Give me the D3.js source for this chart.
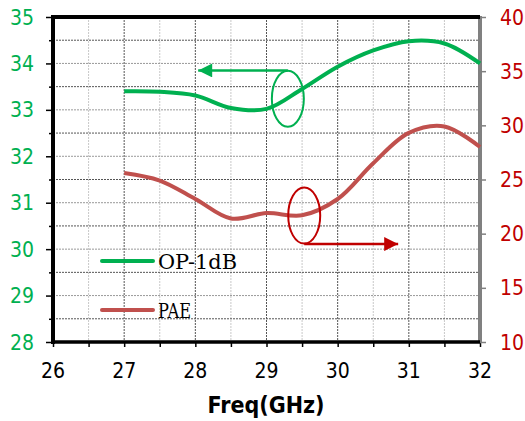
<!DOCTYPE html>
<html>
<head>
<meta charset="utf-8">
<script src="https://cdn.jsdelivr.net/npm/d3@7"></script>
<style>
  body { margin: 0; background: #fff; }
  svg { display: block; }
  .tick-lab { font-family: 'DejaVu Sans Condensed', 'DejaVu Sans', sans-serif; font-stretch: condensed; font-size: 21px; }
</style>
</head>
<body>
<svg id="chart"></svg>
<script>
// frequencies (GHz)
const freq = [27, 27.5, 28, 28.5, 29, 29.5, 30, 30.5, 31, 31.5, 32];
// output P-1dB (dBm), left axis
const op1db = [33.4, 33.39, 33.31, 33.04, 33.02, 33.45, 33.93, 34.28, 34.48, 34.43, 34.0];
// PAE (%), right axis
const pae = [25.6, 24.9, 23.2, 21.4, 21.9, 21.7, 23.2, 26.5, 29.3, 29.9, 28.0];

const xTicks = [26, 27, 28, 29, 30, 31, 32];
const yLeftTicks = [28, 29, 30, 31, 32, 33, 34, 35];
const yRightTicks = [10, 15, 20, 25, 30, 35, 40];
const seriesNames = ["OP-1dB", "PAE"];

const W = 525, H = 421;
const margin = {top: 17, right: 45, bottom: 79, left: 53};
const width = W - margin.left - margin.right;
const height = H - margin.top - margin.bottom;

const green = "#00b050", red = "#c0504d", darkRed = "#c00000";

const svg = d3.select("#chart").attr("width", W).attr("height", H);
const g = svg.append("g").attr("transform", `translate(${margin.left},${margin.top})`);

const x = d3.scaleLinear().domain([26, 32]).range([0, width]);
const yL = d3.scaleLinear().domain([28, 35]).range([height, 0]);
const yR = d3.scaleLinear().domain([10, 40]).range([height, 0]);

// grid: vertical every 0.5 GHz, horizontal every 0.5 on left axis
const vGrid = d3.range(26.5, 32, 0.5);
const hGrid = d3.range(28.5, 35, 0.5);
g.append("g").selectAll("line").data(vGrid).join("line")
  .attr("x1", d => x(d)).attr("x2", d => x(d))
  .attr("y1", 0).attr("y2", height)
  .attr("stroke", d => Number.isInteger(d) ? "#555" : "#c8c8c8")
  .attr("stroke-dasharray", "2,1").attr("stroke-width", 1);
g.append("g").selectAll("line").data(hGrid).join("line")
  .attr("x1", 0).attr("x2", width)
  .attr("y1", d => yL(d)).attr("y2", d => yL(d))
  .attr("stroke", d => Number.isInteger(d) ? "#999" : "#555")
  .attr("stroke-dasharray", "2,1").attr("stroke-width", 1);

// axes
const xAxis = d3.axisBottom(x).tickValues(d3.range(26, 32.01, 0.5)).tickSize(5).tickFormat("");
const yLAxis = d3.axisLeft(yL).tickValues(d3.range(28, 35.01, 0.5)).tickSize(5).tickFormat("");
const yRAxis = d3.axisRight(yR).tickValues(yRightTicks).tickSize(6).tickFormat("");

const xg = g.append("g").attr("transform", `translate(0,${height})`).call(xAxis);
xg.select(".domain").remove();
xg.selectAll(".tick line").attr("stroke", "#000").attr("stroke-width", 1.5);

const ylg = g.append("g").call(yLAxis);
ylg.select(".domain").remove();
ylg.selectAll(".tick line").attr("stroke", "#000").attr("stroke-width", 1.5)
  .attr("x2", d => Number.isInteger(d) ? -7 : -4);

const yrg = g.append("g").attr("transform", `translate(${width},0)`).call(yRAxis);
yrg.select(".domain").remove();
yrg.selectAll(".tick line").attr("stroke", "#808080").attr("stroke-width", 1.5);

// frame lines
g.append("line").attr("x1", width).attr("x2", width).attr("y1", -1).attr("y2", height + 1)
  .attr("stroke", "#808080").attr("stroke-width", 4);
g.append("line").attr("x1", -2).attr("x2", width).attr("y1", 0).attr("y2", 0)
  .attr("stroke", "#000").attr("stroke-width", 4);
g.append("line").attr("x1", 0).attr("x2", width).attr("y1", height).attr("y2", height)
  .attr("stroke", "#000").attr("stroke-width", 3.5);
g.append("line").attr("x1", 0).attr("x2", 0).attr("y1", -2).attr("y2", height + 2)
  .attr("stroke", "#000").attr("stroke-width", 4);

// tick labels
g.append("g").selectAll("text").data(xTicks).join("text")
  .attr("class", "tick-lab")
  .attr("x", d => x(d)).attr("y", height + 36)
  .attr("text-anchor", "middle").attr("fill", "#000")
  .text(d => d);
g.append("g").selectAll("text").data(yLeftTicks).join("text")
  .attr("class", "tick-lab")
  .attr("x", -19).attr("y", d => yL(d)).attr("dy", "0.36em")
  .attr("text-anchor", "end").attr("fill", green)
  .text(d => d);
g.append("g").selectAll("text").data(yRightTicks).join("text")
  .attr("class", "tick-lab")
  .attr("x", width + 20).attr("y", d => yR(d)).attr("dy", "0.36em")
  .attr("text-anchor", "start").attr("fill", darkRed)
  .text(d => d);

// axis title
svg.append("text")
  .attr("x", 266).attr("y", 413)
  .attr("text-anchor", "middle")
  .attr("font-family", "'DejaVu Sans Condensed', 'DejaVu Sans', sans-serif")
  .attr("font-stretch", "condensed")
  .attr("font-weight", "bold").attr("font-size", "23px")
  .text("Freq(GHz)");

// series
const opLine = d3.line().x((d, i) => x(freq[i])).y(d => yL(d)).curve(d3.curveCatmullRom);
const paeLine = d3.line().x((d, i) => x(freq[i])).y(d => yR(d)).curve(d3.curveCatmullRom);

g.append("path").datum(pae).attr("d", paeLine)
  .attr("fill", "none").attr("stroke", red).attr("stroke-width", 4);
g.append("path").datum(op1db).attr("d", opLine)
  .attr("fill", "none").attr("stroke", green).attr("stroke-width", 4);

// annotations (ellipse + arrow pointing to the axis used)
const defs = svg.append("defs");
[["arrG", green], ["arrR", darkRed]].forEach(([id, c]) => {
  defs.append("marker").attr("id", id)
    .attr("viewBox", "0 0 10 10").attr("refX", 10).attr("refY", 5)
    .attr("markerWidth", 16).attr("markerHeight", 14)
    .attr("markerUnits", "userSpaceOnUse").attr("orient", "auto")
    .append("path").attr("d", "M0,0L10,5L0,10Z").attr("fill", c);
});

// green: ellipse at (29.3 GHz, 33.24 dBm), arrow to the left
g.append("ellipse")
  .attr("cx", x(29.3)).attr("cy", yL(33.24)).attr("rx", 16).attr("ry", 28)
  .attr("fill", "none").attr("stroke", green).attr("stroke-width", 2);
g.append("line")
  .attr("x1", x(29.3)).attr("y1", yL(33.85)).attr("x2", x(28.04)).attr("y2", yL(33.85))
  .attr("stroke", green).attr("stroke-width", 2.5).attr("marker-end", "url(#arrG)");

// red: ellipse at (29.53 GHz, 21.67 %), arrow to the right
g.append("ellipse")
  .attr("cx", x(29.53)).attr("cy", yR(21.67)).attr("rx", 16).attr("ry", 28)
  .attr("fill", "none").attr("stroke", darkRed).attr("stroke-width", 2);
g.append("line")
  .attr("x1", x(29.53)).attr("y1", yR(19.04)).attr("x2", x(30.85)).attr("y2", yR(19.04))
  .attr("stroke", darkRed).attr("stroke-width", 2.5).attr("marker-end", "url(#arrR)");

// legend
const legend = svg.append("g");
const legY = [261, 310];
const legC = [green, red];
seriesNames.forEach((name, i) => {
  legend.append("line").attr("x1", 102).attr("x2", 153).attr("y1", legY[i]).attr("y2", legY[i])
    .attr("stroke", legC[i]).attr("stroke-width", 4).attr("stroke-linecap", "round");
  legend.append("text").attr("x", 158).attr("y", legY[i] + 8)
    .attr("font-family", "'DejaVu Serif', serif").attr("font-size", "20px")
    .attr("textLength", i === 0 ? 79 : 33).attr("lengthAdjust", "spacingAndGlyphs")
    .attr("fill", "#000")
    .text(name);
});
</script>
</body>
</html>
